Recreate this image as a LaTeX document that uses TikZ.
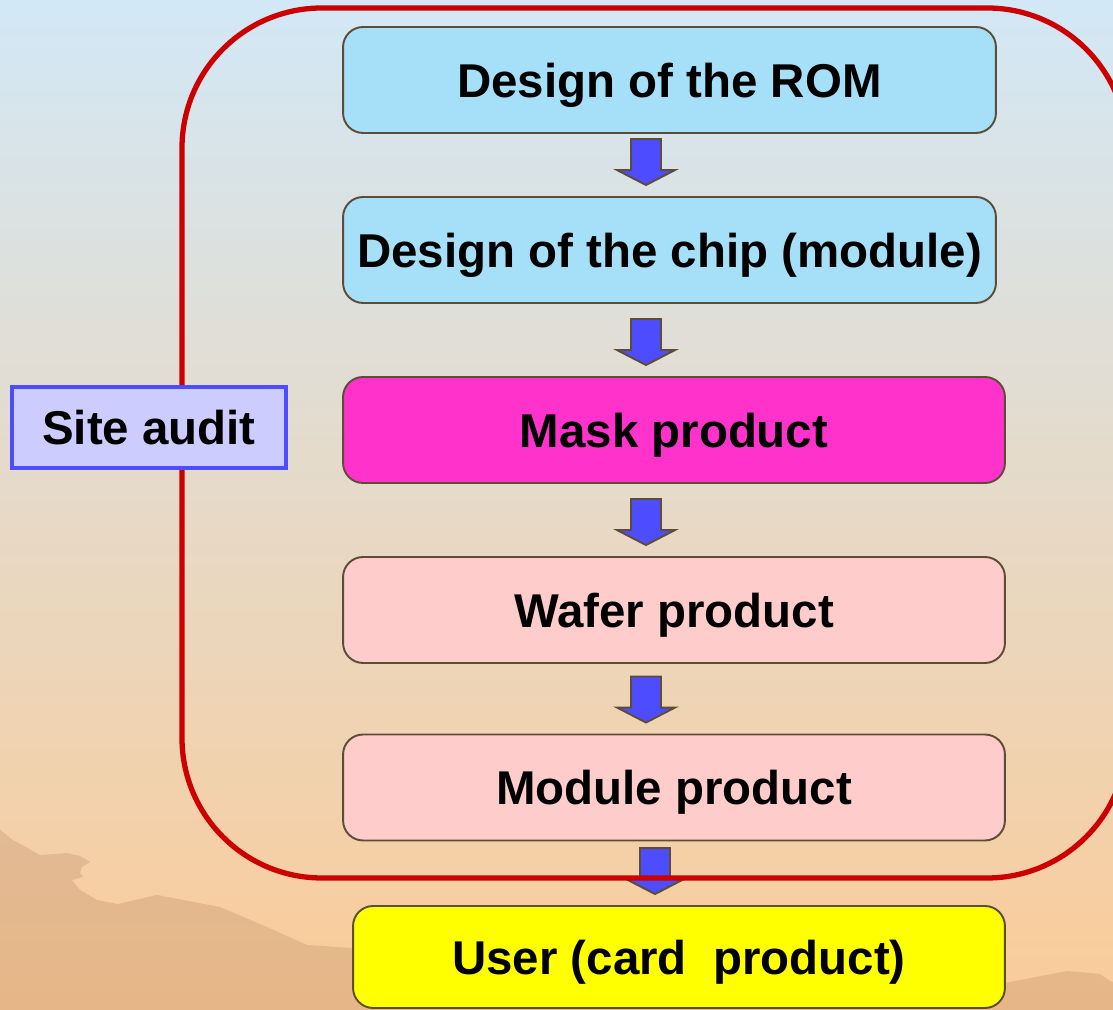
\documentclass[tikz,border=0pt]{standalone}
\usepackage{fontspec}
\setmainfont{Liberation Sans}
\usepackage{tikz}
\usetikzlibrary{calc}
\definecolor{bgtop}{HTML}{D2E8F6}
\definecolor{bgmid}{HTML}{E9DDD2}
\definecolor{bgbot}{HTML}{FBCB98}
\definecolor{hill}{HTML}{B4825F}
\definecolor{edgebrn}{HTML}{5E4D36}
\definecolor{romblue}{HTML}{A6DFF8}
\definecolor{maskpink}{HTML}{FF33CC}
\definecolor{rosy}{HTML}{FFCCCC}
\definecolor{cardyel}{HTML}{FFFF00}
\definecolor{arrblue}{HTML}{4D4DFF}
\definecolor{auditfill}{HTML}{CCCCFF}
\definecolor{frame}{HTML}{CC0000}
\tikzset{
  stage/.style={draw=edgebrn,line width=1.1pt,rounded corners=0.4cm,align=center,
    font=\fontsize{27}{32}\selectfont\bfseries,inner sep=0pt,text depth=0pt,
    minimum height=2.12cm,minimum width=13.24cm},
  audit/.style={draw=arrblue,fill=auditfill,line width=2.3pt,align=center,
    font=\fontsize{27}{32}\selectfont\bfseries,inner sep=0pt,minimum width=5.48cm,minimum height=1.62cm},
  blkarr/.style={draw=edgebrn,fill=arrblue,line width=1.1pt,line join=miter,
    to path={(#1,0 |- \tikztotarget.north) ++(-15,57) -- ++(30,0) -- ++(0,-31) -- ++(14,0)
      -- ++(-29,-15) -- ++(-29,15) -- ++(14,0) -- cycle}},
  zone/.style={draw=frame,line width=3pt,rounded corners=2.8cm},
}
\begin{document}
\begin{tikzpicture}[x=0.02cm,y=0.02cm]
  \useasboundingbox (0,0) rectangle (1113,1010);
  \shade[top color=bgtop,middle color=bgmid,bottom color=bgbot] (0,0) rectangle (1113,1010);
  \fill[hill,opacity=0.28] (0,180) -- (13,170) -- (40,155) -- (67,157) -- (80,154) -- (90,148)
    -- (82,143) -- (80,137) -- (83,133) -- (72,130) -- (80,120) -- (97,110) -- (118,106)
    -- (157,115) -- (220,103) -- (267,83) -- (307,65) -- (353,62) -- (1005,27) -- (1067,39)
    -- (1100,36) -- (1110,29) -- (1113,28) -- (1113,0) -- (0,0) -- cycle;

  \node[stage,fill=romblue,minimum width=13.06cm] (rom) at (669.5,930) {Design of the ROM};
  \node[stage,fill=romblue,minimum width=13.06cm] (chip) at (669.5,760) {Design of the chip (module)};
  \node[stage,fill=maskpink] (mask) at (674,580) {Mask product};
  \node[stage,fill=rosy] (wafer) at (674,400) {Wafer product};
  \node[stage,fill=rosy] (module) at (674,222.5) {Module product};
  \node[stage,fill=cardyel,minimum width=13.04cm,minimum height=2.04cm] (user) at (679,53) {User (card~ product)};

  \foreach \a/\b/\ax in {rom/chip/646,chip/mask/646,mask/wafer/646,wafer/module/646,module/user/655}
    \draw[blkarr=\ax] (\a) to (\b);

  \draw[zone] (182,1002) rectangle (1127,132);
  \node[audit] (site) at (149,582.5) {Site audit};
\end{tikzpicture}
\end{document}
